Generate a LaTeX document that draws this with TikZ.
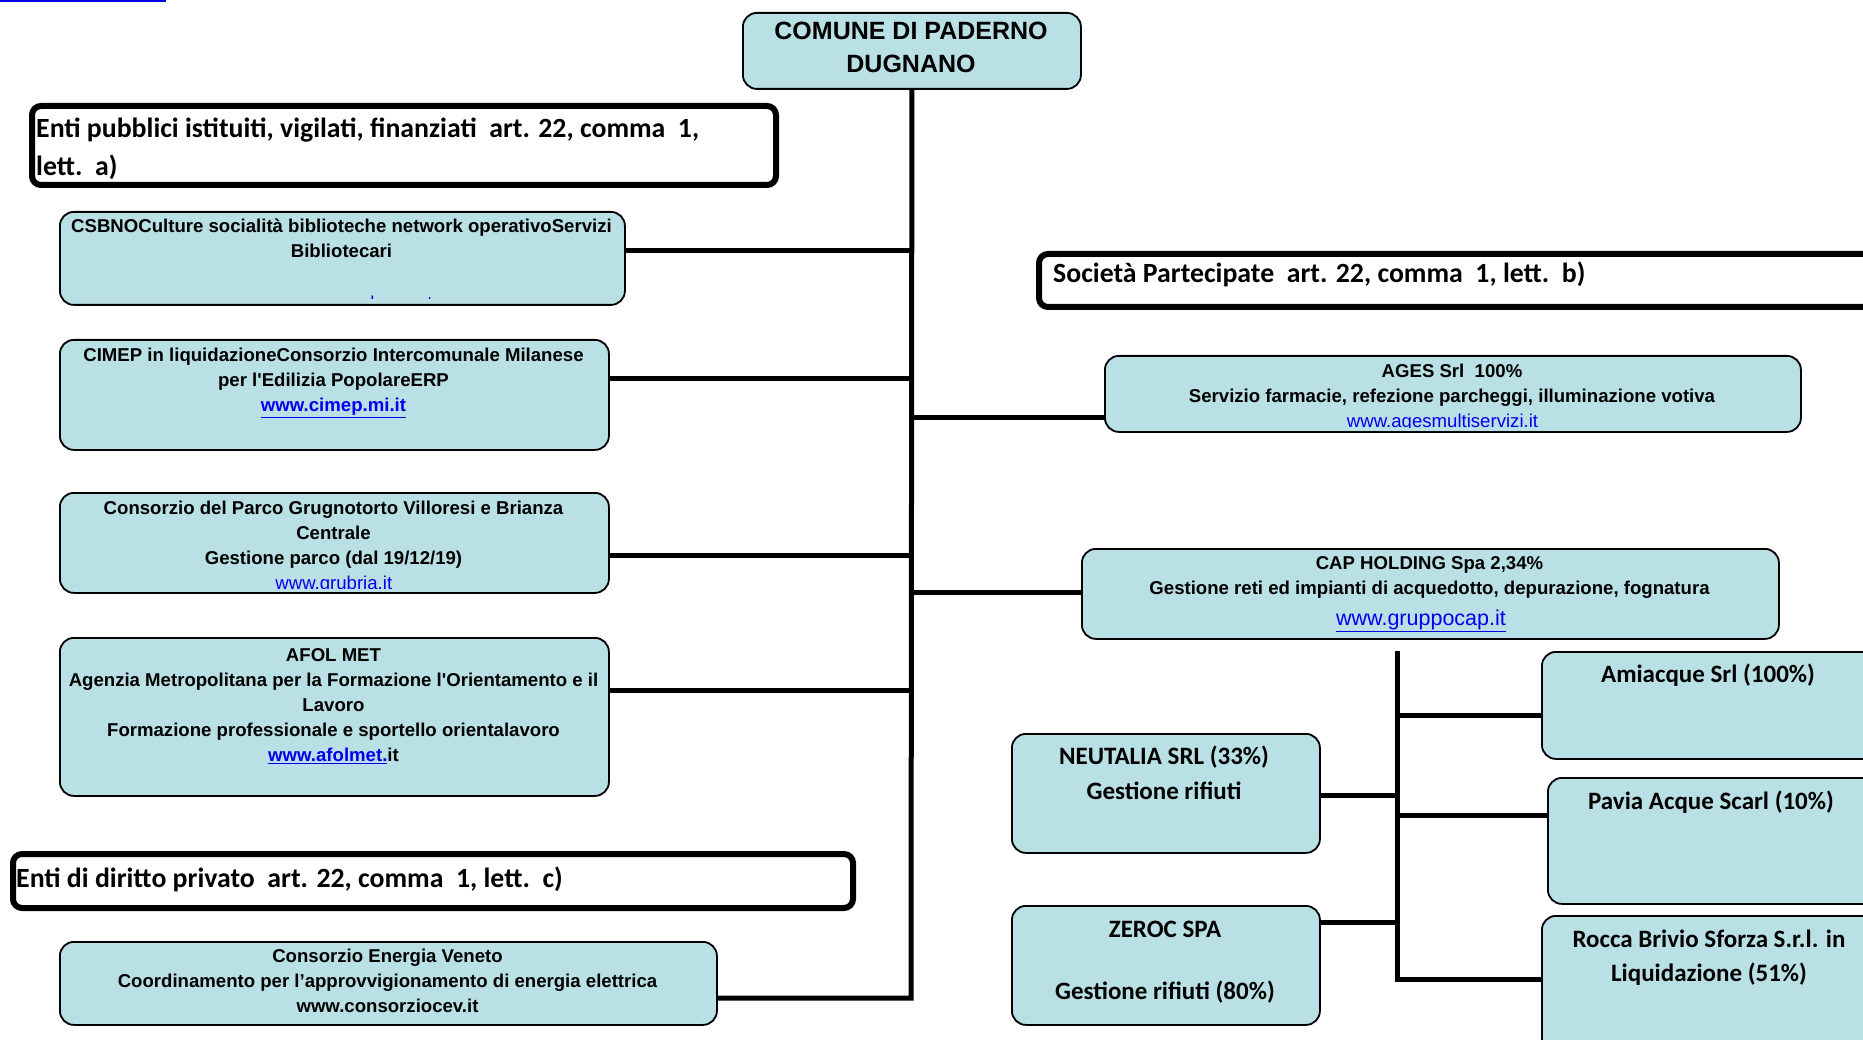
\documentclass[tikz,border=0pt]{standalone}
\usepackage{fontspec}
\setmainfont{Liberation Sans}
\newfontfamily\calfont{Carlito}
\definecolor{boxblue}{RGB}{185,224,228}
\definecolor{linkblue}{RGB}{0,0,238}
\tikzset{
  box/.style={draw=black, line width=1.8pt, fill=boxblue, rounded corners=14pt, inner sep=0pt, anchor=north west},
  hdr/.style={draw=black, line width=6pt, fill=white, rounded corners=9pt, inner sep=0pt, anchor=north west},
  conn/.style={line width=5pt},
  atxt/.style={font=\fontsize{18.6}{25}\selectfont\bfseries, align=center, inner sep=0pt, anchor=north},
  ltxt/.style={font=\fontsize{18.6}{25}\selectfont, text=linkblue, inner sep=0pt, anchor=base},
  ctxt/.style={font=\calfont\fontsize{25}{34}\selectfont\bfseries, inner sep=0pt, anchor=base},
  htxt/.style={font=\calfont\fontsize{27.8}{38}\selectfont\bfseries, inner sep=0pt, anchor=base west},
}
\begin{document}
\begin{tikzpicture}[x=1pt,y=-1pt]
\clip (0,0) rectangle (1863,1040);
\fill[white] (0,0) rectangle (1863,1040);
\draw[linkblue, line width=2pt] (0,1) -- (166,1);

% ---------- boxes ----------
\node[box, minimum width=338pt, minimum height=76pt] (comune) at (742,12) {};
\node[hdr, minimum width=744pt, minimum height=79pt] (hdra) at (29,103) {};
\node[box, minimum width=565pt, minimum height=93pt] (csbno) at (59,211) {};
\node[box, minimum width=549pt, minimum height=110pt] (cimep) at (59,339) {};
\node[box, minimum width=549pt, minimum height=100pt] (parco) at (59,492) {};
\node[box, minimum width=549pt, minimum height=158pt] (afol) at (59,637) {};
\node[hdr, minimum width=840pt, minimum height=54pt] (hdrc) at (10,851) {};
\node[box, minimum width=657pt, minimum height=83pt] (cev) at (59,941) {};
\node[hdr, minimum width=900pt, minimum height=53pt] (hdrb) at (1036,251) {};
\node[box, minimum width=696pt, minimum height=76pt] (ages) at (1104,355) {};
\node[box, minimum width=697pt, minimum height=90pt] (cap) at (1081,548) {};
\node[box, minimum width=400pt, minimum height=107pt] (amia) at (1541,651) {};
\node[box, minimum width=400pt, minimum height=126pt] (pavia) at (1547,777) {};
\node[box, minimum width=400pt, minimum height=140pt] (rocca) at (1541,915) {};
\node[box, minimum width=308pt, minimum height=119pt] (neut) at (1011,733) {};
\node[box, minimum width=308pt, minimum height=119pt] (zeroc) at (1011,905) {};

% ---------- connectors ----------
\coordinate (trunkbot) at (911,998);
\coordinate (j1) at (911,251);
\coordinate (j2) at (911,379);
\coordinate (j3) at (911,555);
\coordinate (j4) at (911,690);
\coordinate (j5) at (911,417);
\coordinate (j6) at (911,592);
\draw[conn] (comune.south) -- (trunkbot) -- (trunkbot -| cev.east);
\draw[conn] (j1) -- (j1 -| csbno.east);
\draw[conn] (j2) -- (j2 -| cimep.east);
\draw[conn] (j3) -- (j3 -| parco.east);
\draw[conn] (j4) -- (j4 -| afol.east);
\draw[conn] (j5) -- (j5 -| ages.west);
\draw[conn] (j6) -- (j6 -| cap.west);

\coordinate (st) at (1397,651);
\coordinate (sb) at (1397,979);
\coordinate (k1) at (1397,715);
\coordinate (k2) at (1397,815);
\coordinate (k3) at (1397,795);
\coordinate (k4) at (1397,922);
\draw[conn] (st) -- (sb) -- (sb -| rocca.west);
\draw[conn] (k1) -- (k1 -| amia.west);
\draw[conn] (k2) -- (k2 -| pavia.west);
\draw[conn] (k3) -- (k3 -| neut.east);
\draw[conn] (k4) -- (k4 -| zeroc.east);

% ---------- texts ----------
\node[atxt, font=\fontsize{25}{33}\selectfont\bfseries] (tcomune) at (911,22) {COMUNE DI PADERNO\\DUGNANO};

\node[htxt] (thdra1) at (36,138) {Enti pubblici istituiti, vigilati, finanziati\ \ art. 22, comma\ \ 1,};
\node[htxt] (thdra2) at (36,176) {lett.\ \ a)};
\node[htxt] (thdrb) at (1053,283) {Società Partecipate\ \ art. 22, comma\ \ 1, lett.\ \ b)};
\node[htxt] (thdrc) at (16,887) {Enti di diritto privato\ \ art. 22, comma\ \ 1, lett.\ \ c)};

\node[atxt] (tcsbno) at (341.5,219) {CSBNOCulture socialità biblioteche network operativoServizi\\Bibliotecari};
\begin{scope}
  \clip (59,211) rectangle (624,299);
  \node[ltxt] (lcsbno) at (370,309.5) {\underline{www.csbno.net}};
\end{scope}

\node[atxt] (tcimep) at (333.5,348) {CIMEP in liquidazioneConsorzio Intercomunale Milanese\\per l\textquotesingle Edilizia PopolareERP\\\textcolor{linkblue}{\underline{www.cimep.mi.it}}};

\node[atxt] (tparco) at (333.5,501) {Consorzio del Parco Grugnotorto Villoresi e Brianza\\Centrale\\Gestione parco (dal 19/12/19)};
\begin{scope}
  \clip (59,492) rectangle (608,588);
  \node[ltxt] (lparco) at (333.8,589) {www.grubria.it};
\end{scope}

\node[atxt] (tafol) at (333.5,648) {AFOL MET\\Agenzia Metropolitana per la Formazione l\textquotesingle Orientamento e il\\Lavoro\\Formazione professionale e sportello orientalavoro\\\textcolor{linkblue}{\underline{www.afolmet.}}it};

\node[atxt] (tcev) at (387.5,949) {Consorzio Energia Veneto\\Coordinamento per l’approvvigionamento di energia elettrica\\www.consorziocev.it};

\node[atxt] (tages) at (1452,364) {AGES Srl\ \ 100\%\\Servizio farmacie, refezione parcheggi, illuminazione votiva};
\begin{scope}
  \clip (1104,355) rectangle (1800,427);
  \node[ltxt] (lages) at (1442.5,428) {www.agesmultiservizi.it};
\end{scope}

\node[atxt] (tcap) at (1429.5,556) {CAP HOLDING Spa 2,34\%\\Gestione reti ed impianti di acquedotto, depurazione, fognatura};
\node[ltxt, font=\fontsize{21.5}{25}\selectfont] (lcap) at (1421,625) {\underline{www.gruppocap.it}};

\node[ctxt] (tneut1) at (1164,764) {NEUTALIA SRL (33\%)};
\node[ctxt] (tneut2) at (1164,799) {Gestione rifiuti};
\node[ctxt] (tzer1) at (1165,937) {ZEROC SPA};
\node[ctxt] (tzer2) at (1165,999) {Gestione rifiuti (80\%)};
\node[ctxt] (tamia) at (1708,682) {Amiacque Srl (100\%)};
\node[ctxt] (tpavia) at (1711,809) {Pavia Acque Scarl (10\%)};
\node[ctxt] (trocca1) at (1709,947) {Rocca Brivio Sforza S.r.l. in};
\node[ctxt] (trocca2) at (1709,981) {Liquidazione (51\%)};
\end{tikzpicture}
\end{document}
